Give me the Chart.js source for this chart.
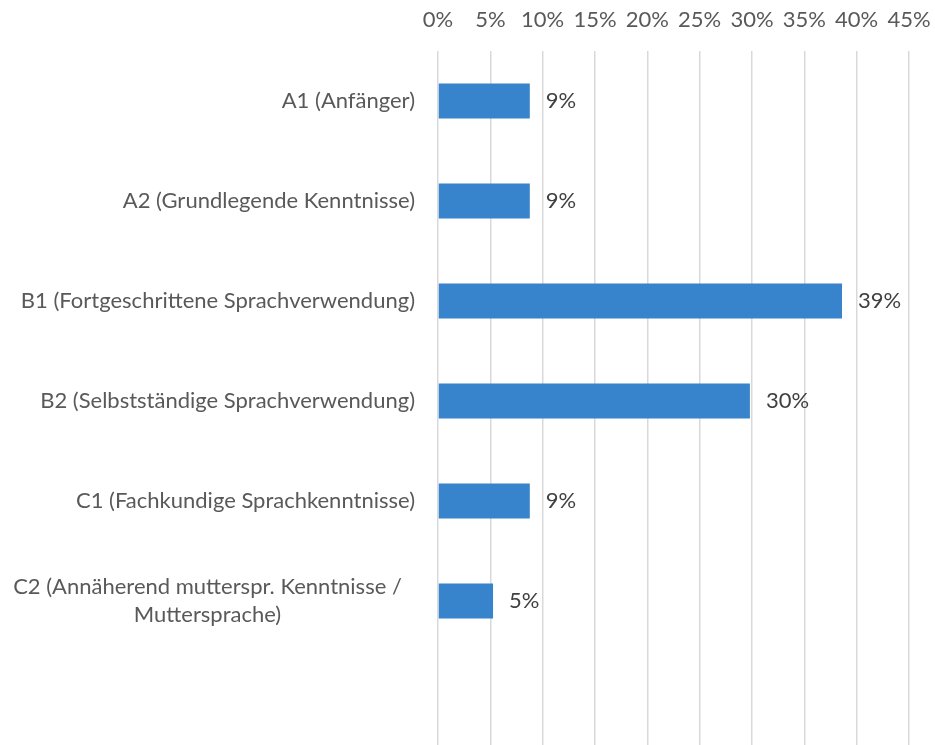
<!DOCTYPE html>
<html lang="de">
  <head>
    <meta charset="UTF-8">
    <title>Sprachniveau</title>
    <style>
      html, body { margin: 0; padding: 0; background: #fff; overflow: hidden; }
      .wrap { position: relative; width: 935px; height: 751px; }
    </style>
  </head>
  <body>
    <div class="wrap">
      <canvas id="myChart"></canvas>
    </div>

    <script src="https://cdn.jsdelivr.net/npm/chart.js"></script>
    <script>
      // data (n = 57 answers)
      const categories = [
        "A1 (Anfänger)",
        "A2 (Grundlegende Kenntnisse)",
        "B1 (Fortgeschrittene Sprachverwendung)",
        "B2 (Selbstständige Sprachverwendung)",
        "C1 (Fachkundige Sprachkenntnisse)",
        ["C2 (Annäherend mutterspr. Kenntnisse /", "Muttersprache)"],
        ""
      ];
      const shares = [8.77, 8.77, 38.6, 29.8, 8.77, 5.26, null];
      const valueLabels = ["9%", "9%", "39%", "30%", "9%", "5%", ""];
      const xMax = 45;
      const xStep = 5;

      const FONT = "Lato, 'Open Sans', sans-serif";
      const FONT_SIZE = 22;

      // value labels right of each bar
      const valueLabelPlugin = {
        id: "valueLabels",
        afterDatasetsDraw(chart) {
          const ctx = chart.ctx;
          const meta = chart.getDatasetMeta(0);
          ctx.save();
          ctx.font = FONT_SIZE + "px " + FONT;
          ctx.fillStyle = "#404040";
          ctx.textAlign = "left";
          ctx.textBaseline = "middle";
          meta.data.forEach(function (bar, i) {
            if (shares[i] == null) return;
            ctx.fillText(valueLabels[i], bar.x + 16, bar.y);
          });
          ctx.restore();
        }
      };

      // category labels: single lines right aligned, wrapped ones centred
      const categoryLabelPlugin = {
        id: "categoryLabels",
        afterDraw(chart) {
          const ctx = chart.ctx;
          const y = chart.scales.y;
          const right = y.right - 23;
          const lineH = 28;
          ctx.save();
          ctx.font = FONT_SIZE + "px " + FONT;
          ctx.fillStyle = "#595959";
          ctx.textBaseline = "middle";
          categories.forEach(function (cat, i) {
            const lines = Array.isArray(cat) ? cat : [cat];
            const cy = y.getPixelForTick(i);
            if (lines.length === 1) {
              ctx.textAlign = "right";
              ctx.fillText(lines[0], right, cy);
            } else {
              ctx.textAlign = "center";
              const top = cy - (lines.length - 1) * lineH / 2;
              lines.forEach(function (l, k) {
                ctx.fillText(l, right / 2, top + k * lineH);
              });
            }
          });
          ctx.restore();
        }
      };

      const ctx = document.getElementById("myChart").getContext("2d");
      new Chart(ctx, {
        type: "bar",
        data: {
          labels: categories,
          datasets: [{
            data: shares,
            backgroundColor: "#3784CC",
            borderWidth: 0,
            categoryPercentage: 1,
            barPercentage: 0.35
          }]
        },
        plugins: [valueLabelPlugin, categoryLabelPlugin],
        options: {
          indexAxis: "y",
          responsive: true,
          maintainAspectRatio: false,
          animation: false,
          layout: { padding: { left: 0, right: 26, top: 0, bottom: 0 } },
          plugins: {
            legend: { display: false },
            tooltip: { enabled: false }
          },
          scales: {
            x: {
              position: "top",
              min: 0,
              max: xMax,
              border: { display: false },
              grid: { color: "#d9d9d9", lineWidth: 1.5, drawTicks: false },
              ticks: {
                stepSize: xStep,
                padding: 18,
                color: "#595959",
                font: { family: FONT, size: FONT_SIZE },
                maxRotation: 0,
                callback: function (v) { return v + "%"; }
              },
              afterFit: function (scale) {
                scale.height = 51;
                scale.paddingLeft = 0;
                scale.paddingRight = 0;
              }
            },
            y: {
              border: { display: false },
              grid: { display: false },
              ticks: { display: false },
              afterFit: function (scale) { scale.width = 438; }
            }
          }
        }
      });
    </script>
  </body>
</html>
